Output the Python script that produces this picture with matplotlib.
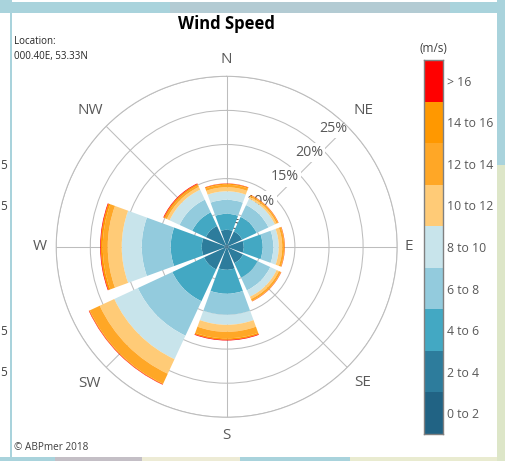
import numpy as np
import matplotlib
matplotlib.use("Agg")
import matplotlib.pyplot as plt
from matplotlib.patches import Rectangle

plt.rcParams['font.family'] = ['Open Sans', 'DejaVu Sans']

directions = ['N', 'NE', 'E', 'SE', 'S', 'SW', 'W', 'NW']
bearings = [0, 45, 90, 135, 180, 225, 270, 315]
ring_values = [5, 10, 15, 20, 25]

s_0_2 = [0.29, 0.29, 0.29, 0.29, 0.29, 0.29, 0.29, 0.29]
s_2_4 = [2.20, 2.20, 2.20, 2.35, 3.08, 3.37, 3.37, 3.08]
s_4_6 = [2.35, 2.35, 2.79, 2.35, 3.52, 5.13, 4.55, 2.20]
s_6_8 = [2.05, 1.91, 1.57, 2.05, 3.08, 5.57, 4.25, 2.05]
s_8_10 = [1.25, 1.03, 0.78, 1.03, 1.47, 3.81, 2.93, 1.61]
s_10_12 = [0.59, 0.29, 0.51, 0.37, 1.03, 2.35, 2.05, 0.44]
s_12_14 = [0.37, 0.22, 0.29, 0.29, 0.95, 1.61, 0.73, 0.29]
s_14_16 = [0.15, 0.07, 0.07, 0.07, 0.22, 0.10, 0.29, 0.19]
s_16_up = [0.04, 0.03, 0.03, 0.03, 0.10, 0.07, 0.10, 0.10]
series = [s_0_2, s_2_4, s_4_6, s_6_8, s_8_10, s_10_12, s_12_14, s_14_16, s_16_up]
class_labels = ['0 to 2', '2 to 4', '4 to 6', '6 to 8', '8 to 10',
                '10 to 12', '12 to 14', '14 to 16', '> 16']
class_colors = ['#216384', '#2D7C9C', '#43A8C3', '#93CBDD', '#C8E4EB',
                '#FFCB77', '#FFA726', '#FF9800', '#FF0000']

W, H = 505, 461
fig = plt.figure(figsize=(W / 100, H / 100), dpi=100, facecolor='#A9D3DC')


def rect(x0, y0, x1, y1, color, z=0):
    fig.add_artist(Rectangle((x0 / W, 1 - y1 / H), (x1 - x0) / W, (y1 - y0) / H,
                             transform=fig.transFigure, color=color, lw=0, zorder=z))


# page behind the panel
rect(0, 13, 10, 461, '#FFFFFF')
rect(0, 457, 55, 461, '#A9D3DC')
rect(55, 457, 142, 461, '#C4BFC6')
rect(142, 457, 240, 461, '#EDEBD5')
rect(240, 457, 350, 461, '#A9D3DC')
rect(350, 457, 505, 461, '#E9EBD0')
rect(497, 165, 505, 461, '#DDE6C8')
rect(170, 2, 450, 13, '#B3CBD3')
rect(12, 0, 497, 2, '#FFFFFF')
rect(12, 13, 497, 457, '#FFFFFF')

for yp in [165, 206, 331, 373]:
    fig.text(0.5 / W, 1 - yp / H, '5', fontsize=8.5, color='#404040', va='center', ha='left')

# rose
cx, cy, R = 226.7, 246.8, 170.5
ax = fig.add_axes([(cx - R) / W, 1 - (cy + R) / H, 2 * R / W, 2 * R / H],
                  projection='polar', facecolor='none')
ax.set_theta_zero_location('N')
ax.set_theta_direction(-1)
ax.set_axisbelow(True)
theta = np.radians(bearings)
bottom = np.zeros(len(bearings))
for vals, col in zip(series, class_colors):
    ax.bar(theta, vals, width=np.radians(40.2), bottom=bottom, color=col,
           linewidth=0, zorder=3)
    bottom = bottom + np.array(vals)
ax.set_ylim(0, 25)
ax.set_rgrids(ring_values, labels=[''] * len(ring_values))
ax.set_thetagrids(bearings, labels=[''] * len(bearings))
ax.grid(True, color='#BDBDBD', lw=0.75)
ax.spines['polar'].set_color('#BDBDBD')
ax.spines['polar'].set_linewidth(0.75)

for r in ring_values:
    ax.annotate(f'{r}%', xy=(np.radians(45), r), xytext=(0, -1.8), textcoords='offset points',
                ha='right', va='center', fontsize=10.3, color='#595959', zorder=1,
                bbox=dict(facecolor='white', edgecolor='none', pad=1.5),
                annotation_clip=False)

# direction labels sit at slightly different distances from the rim
label_radius = {'N': 27.4, 'NE': 28.3, 'E': 26.7, 'SE': 28.2,
                'S': 27.7, 'SW': 28.4, 'W': 27.4, 'NW': 28.3}
for name, b in zip(directions, bearings):
    ax.text(np.radians(b), label_radius[name], name, ha='center', va='center', fontsize=11,
            color='#595959', clip_on=False)

# titles and notes
fig.text(226.5 / W, 1 - 24 / H, 'Wind Speed', fontsize=12, fontweight='bold',
         color='black', ha='center', va='center')
fig.text(14 / W, 1 - 42 / H, 'Location:', fontsize=7.0, color='#262626', va='center')
fig.text(14 / W, 1 - 56.5 / H, '000.40E, 53.33N', fontsize=7.0, color='#262626', va='center')
fig.text(14 / W, 1 - 447 / H, '\u00a9 ABPmer 2018', fontsize=7.2, color='#404040', va='center')

# colour key
lx0, lx1, ly0, ly1 = 423.5, 442.5, 60, 434
lax = fig.add_axes([lx0 / W, 1 - ly1 / H, (lx1 - lx0) / W, (ly1 - ly0) / H])
lax.bar(0, [1] * len(class_colors), width=1, bottom=np.arange(len(class_colors)),
        color=class_colors, linewidth=0)
lax.set_xlim(-0.5, 0.5)
lax.set_ylim(0, len(class_colors))
lax.set_xticks([])
lax.yaxis.tick_right()
lax.set_yticks(np.arange(len(class_colors)) + 0.5, labels=class_labels)
lax.tick_params(axis='y', length=0, pad=3.5, labelsize=8.8, labelcolor='#595959')
for s in lax.spines.values():
    s.set_color('#808080')
    s.set_linewidth(1)
fig.text(433 / W, 1 - 48 / H, '(m/s)', fontsize=8.5, color='#404040', ha='center', va='center')

fig.savefig('out.png', dpi=100, facecolor=fig.get_facecolor())
